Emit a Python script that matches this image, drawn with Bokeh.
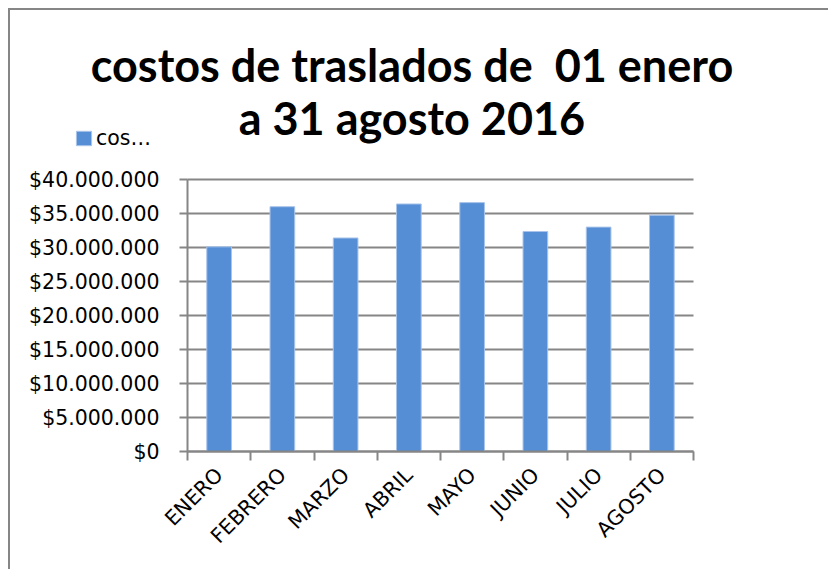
import math
from bokeh.plotting import figure
from bokeh.models import Range1d, FixedTicker, Label, Legend, LegendItem
from bokeh.embed import file_html
from bokeh.resources import INLINE

# ---- data ----
months = ["ENERO", "FEBRERO", "MARZO", "ABRIL", "MAYO", "JUNIO", "JULIO", "AGOSTO"]
costos = [30100000, 36000000, 31400000, 36400000, 36600000, 32350000, 33000000, 34750000]
y_ticks = [0, 5000000, 10000000, 15000000, 20000000, 25000000, 30000000, 35000000, 40000000]
y_tick_labels = ["$0", "$5.000.000", "$10.000.000", "$15.000.000", "$20.000.000",
                 "$25.000.000", "$30.000.000", "$35.000.000", "$40.000.000"]
title_lines = ["costos de traslados de\u00a0 01 enero", "a 31 agosto 2016"]
series_label = "cos…"

GRAY = "#868686"
BLUE = "#558ED5"
FONT = "DejaVu Sans"
FSIZE = "20.5px"

# ---- layout (canvas pixels) ----
W, H = 820, 561
PLOT_L, PLOT_R = 177, 683      # where the category axis starts / ends
PLOT_T, PLOT_B = 169, 441      # where the value axis top / bottom are
n = len(months)
ymax = y_ticks[-1]
xs = (PLOT_R - PLOT_L) / n
ys = (PLOT_B - PLOT_T) / ymax
x_range = Range1d(-PLOT_L / xs, (W - PLOT_L) / xs)
y_range = Range1d(-(H - PLOT_B) / ys, PLOT_B / ys)

p = figure(width=W, height=H, output_backend="svg", toolbar_location=None,
           x_range=x_range, y_range=y_range)
p.min_border = 0
p.min_border_left = 0
p.min_border_right = 0
p.min_border_top = 0
p.min_border_bottom = 0
p.outline_line_color = None
p.background_fill_color = "white"
p.border_fill_color = "white"
p.styles = {"margin-left": "8px", "margin-top": "8px",
            "border-left": "2px solid #868686", "border-top": "2px solid #868686"}
p.xgrid.visible = False
p.ygrid.visible = False

# horizontal gridlines across the category span
p.segment(x0=[0] * len(y_ticks), x1=[n] * len(y_ticks), y0=y_ticks, y1=y_ticks,
          line_color=GRAY, line_width=2)

centers = [i + 0.5 for i in range(n)]
r = p.vbar(x=centers, top=costos, width=0.39, fill_color=BLUE,
           line_color="#a9c4ea", line_width=1)

# x axis
xa = p.xaxis[0]
xa.fixed_location = 0
xa.bounds = (0, n)
xa.ticker = FixedTicker(ticks=centers, minor_ticks=list(range(n + 1)))
xa.major_label_overrides = {c: m for c, m in zip(centers, months)}
xa.major_tick_line_color = None
xa.major_tick_out = 0
xa.major_tick_in = 0
xa.minor_tick_line_color = GRAY
xa.minor_tick_line_width = 2
xa.minor_tick_out = 9
xa.minor_tick_in = 0
xa.axis_line_color = GRAY
xa.axis_line_width = 2
xa.major_label_orientation = math.pi / 4
xa.major_label_standoff = 11
xa.major_label_text_font = FONT
xa.major_label_text_font_size = FSIZE
xa.major_label_text_color = "black"

# y axis
ya = p.yaxis[0]
ya.fixed_location = 0
ya.bounds = (0, ymax)
ya.ticker = FixedTicker(ticks=y_ticks, minor_ticks=[])
ya.major_label_overrides = {t: l for t, l in zip(y_ticks, y_tick_labels)}
ya.major_tick_line_color = GRAY
ya.major_tick_line_width = 2
ya.major_tick_out = 8
ya.major_tick_in = 0
ya.minor_tick_line_color = None
ya.axis_line_color = GRAY
ya.axis_line_width = 2
ya.major_label_standoff = 20
ya.major_label_text_font = FONT
ya.major_label_text_font_size = FSIZE
ya.major_label_text_color = "black"

# title (two centred lines)
for txt, yb in zip(title_lines, [56.85e6, 49.1e6]):
    p.add_layout(Label(x=3.549, y=yb, text=txt, text_align="center",
                       text_baseline="alphabetic", text_font="Lato", text_font_style="bold",
                       text_font_size="45px", text_color="black"))

legend = Legend(items=[LegendItem(label=series_label, renderers=[r])],
                location=(64, 421), padding=0, margin=0, border_line_color=None,
                background_fill_alpha=0, glyph_width=19, glyph_height=18,
                label_text_font=FONT, label_text_font_size=FSIZE, label_standoff=3,
                label_text_color="black")
p.add_layout(legend, "center")

open("out.html", "w").write(file_html(p, INLINE))
